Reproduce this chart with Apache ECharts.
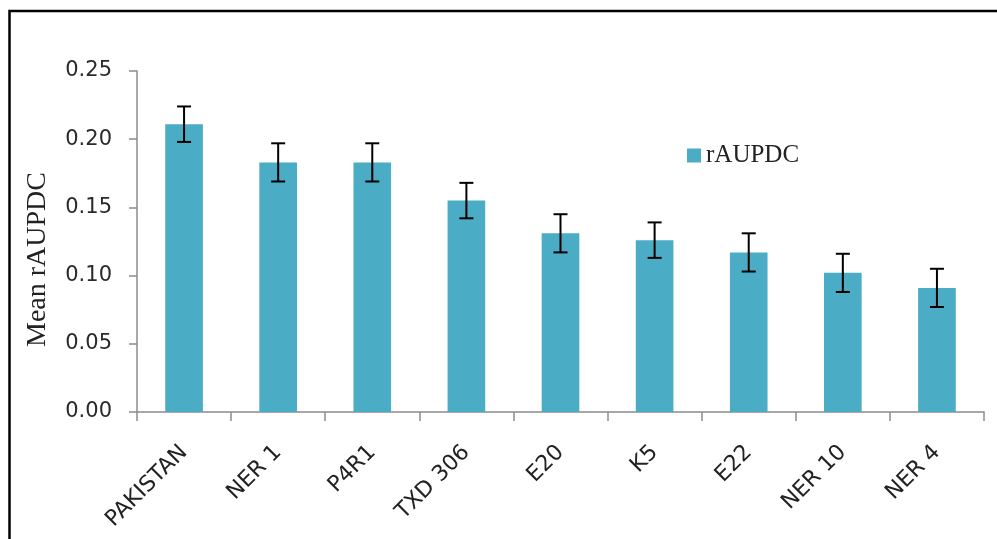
<!DOCTYPE html>
<html>
<head>
<meta charset="utf-8">
<script src="https://cdn.jsdelivr.net/npm/echarts@6/dist/echarts.min.js"></script>
<style>
html,body{margin:0;padding:0;background:#fff;}
#chart{width:997px;height:539px;}
</style>
</head>
<body>
<div id="chart"></div>
<script>
const categories = ['PAKISTAN', 'NER 1', 'P4R1', 'TXD 306', 'E20', 'K5', 'E22', 'NER 10', 'NER 4'];
const meanValues = [0.211, 0.183, 0.183, 0.155, 0.131, 0.126, 0.117, 0.102, 0.091];
const errorValues = [0.013, 0.014, 0.014, 0.013, 0.014, 0.013, 0.014, 0.014, 0.014];
const seriesName = 'rAUPDC';
const yAxisTitle = 'Mean rAUPDC';

const chart = echarts.init(document.getElementById('chart'));
const errData = categories.map((c, i) => [i, meanValues[i] - errorValues[i], meanValues[i] + errorValues[i]]);

chart.setOption({
  animation: false,
  backgroundColor: '#ffffff',
  graphic: [{
    type: 'rect',
    shape: { x: 9.5, y: 11, width: 1200, height: 800 },
    style: { fill: 'none', stroke: '#000000', lineWidth: 2.5 },
    silent: true
  }, {
    type: 'text',
    x: 38,
    y: 259.5,
    rotation: Math.PI / 2,
    style: {
      text: yAxisTitle,
      fontFamily: 'Liberation Serif',
      fontSize: 28,
      fill: '#222',
      textAlign: 'center',
      textVerticalAlign: 'middle'
    },
    silent: true
  }],
  grid: { left: 137, right: 13, top: 71, bottom: 127 },
  legend: {
    data: [seriesName],
    left: 682,
    top: 138,
    icon: 'rect',
    itemWidth: 14,
    itemHeight: 14,
    textStyle: { fontFamily: 'Liberation Serif', fontSize: 25, color: '#222' }
  },
  xAxis: {
    type: 'category',
    data: categories,
    axisLine: { lineStyle: { color: '#8c8c8c', width: 1.5 } },
    axisTick: { show: true, length: 9, lineStyle: { color: '#8c8c8c', width: 1.5 } },
    axisLabel: {
      rotate: 45, margin: 37, interval: 0,
      fontFamily: 'DejaVu Sans', fontSize: 22, color: '#222'
    }
  },
  yAxis: {
    type: 'value',
    min: 0, max: 0.25, interval: 0.05,
    axisLine: { show: true, lineStyle: { color: '#8c8c8c', width: 1.5 } },
    axisTick: { show: true, length: 8, lineStyle: { color: '#8c8c8c', width: 1.5 } },
    splitLine: { show: false },
    axisLabel: {
      margin: 25,
      fontFamily: 'DejaVu Sans', fontSize: 21, color: '#2a2a2a',
      formatter: v => v.toFixed(2)
    }
  },
  series: [{
    name: seriesName,
    type: 'bar',
    data: meanValues,
    barWidth: '40%',
    itemStyle: { color: '#4BACC6' }
  }, {
    name: 'error',
    type: 'custom',
    data: errData,
    z: 10,
    renderItem: function (params, api) {
      const x = api.value(0);
      const lo = api.coord([x, api.value(1)]);
      const hi = api.coord([x, api.value(2)]);
      const hw = 7;
      const style = { stroke: '#000', lineWidth: 2 };
      return {
        type: 'group',
        children: [
          { type: 'line', shape: { x1: lo[0], y1: lo[1], x2: hi[0], y2: hi[1] }, style: style },
          { type: 'line', shape: { x1: lo[0] - hw, y1: lo[1], x2: lo[0] + hw, y2: lo[1] }, style: style },
          { type: 'line', shape: { x1: hi[0] - hw, y1: hi[1], x2: hi[0] + hw, y2: hi[1] }, style: style }
        ]
      };
    }
  }]
});
</script>
</body>
</html>
